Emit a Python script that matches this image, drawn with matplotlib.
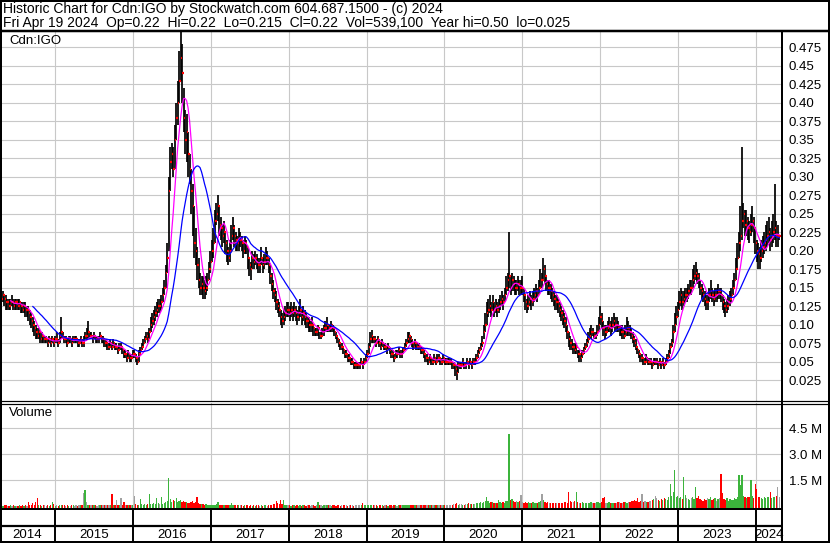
import numpy as np
import pandas as pd
import matplotlib
matplotlib.use('Agg')
import matplotlib.pyplot as plt
import matplotlib.dates as mdates
from matplotlib.lines import Line2D

plt.rcParams['font.family'] = ['Liberation Sans', 'DejaVu Sans']

# ---------------- data (weekly, Apr 2014 - Apr 19 2024) ----------------
close = [
    0.135,0.14,0.135,0.13,0.13,0.125,0.13,0.13,0.125,0.13,
    0.13,0.125,0.13,0.125,0.12,0.125,0.12,0.12,0.115,0.11,
    0.105,0.10,0.095,0.09,0.085,0.09,0.08,0.085,0.08,0.08,
    0.08,0.075,0.08,0.075,0.08,0.075,0.08,0.08,0.075,0.085,
    0.09,0.085,0.08,0.08,0.075,0.08,0.08,0.075,0.08,0.08,
    0.08,0.075,0.075,0.08,0.075,0.075,0.085,0.085,0.09,0.085,
    0.085,0.08,0.085,0.08,0.08,0.08,0.085,0.08,0.08,0.075,
    0.075,0.07,0.07,0.075,0.07,0.075,0.07,0.07,0.065,0.07,
    0.07,0.065,0.06,0.06,0.055,0.06,0.055,0.055,0.06,0.06,
    0.055,0.05,0.06,0.065,0.07,0.075,0.08,0.085,0.08,0.09,
    0.10,0.105,0.11,0.115,0.12,0.125,0.125,0.13,0.14,0.15,
    0.17,0.19,0.28,0.32,0.33,0.31,0.35,0.38,0.40,0.43,
    0.46,0.44,0.38,0.35,0.36,0.33,0.31,0.28,0.26,0.21,
    0.20,0.18,0.16,0.15,0.155,0.15,0.145,0.15,0.16,0.175,
    0.185,0.20,0.21,0.24,0.25,0.26,0.235,0.23,0.22,0.225,
    0.21,0.20,0.19,0.20,0.22,0.23,0.22,0.215,0.21,0.215,
    0.215,0.21,0.20,0.21,0.205,0.19,0.18,0.175,0.19,0.185,
    0.19,0.185,0.18,0.18,0.19,0.18,0.185,0.19,0.19,0.18,
    0.165,0.155,0.145,0.14,0.13,0.125,0.12,0.11,0.105,0.11,
    0.115,0.12,0.12,0.115,0.12,0.115,0.12,0.115,0.11,0.115,
    0.12,0.11,0.115,0.11,0.105,0.105,0.10,0.10,0.10,0.095,
    0.09,0.09,0.095,0.085,0.085,0.09,0.095,0.095,0.10,0.095,
    0.095,0.10,0.095,0.09,0.085,0.08,0.075,0.07,0.07,0.065,
    0.06,0.06,0.055,0.055,0.05,0.05,0.045,0.045,0.045,0.045,
    0.045,0.05,0.045,0.05,0.055,0.06,0.07,0.08,0.085,0.08,
    0.08,0.075,0.08,0.075,0.07,0.075,0.07,0.07,0.065,0.07,
    0.065,0.06,0.06,0.055,0.06,0.06,0.065,0.06,0.06,0.065,
    0.07,0.075,0.08,0.085,0.08,0.075,0.07,0.075,0.07,0.07,
    0.07,0.065,0.065,0.06,0.055,0.055,0.05,0.055,0.05,0.05,
    0.055,0.05,0.055,0.055,0.05,0.05,0.055,0.05,0.05,0.05,
    0.05,0.05,0.045,0.045,0.04,0.035,0.045,0.045,0.045,0.05,
    0.045,0.045,0.05,0.045,0.05,0.045,0.05,0.05,0.055,0.06,
    0.065,0.07,0.075,0.09,0.10,0.115,0.12,0.125,0.12,0.13,
    0.12,0.125,0.12,0.125,0.13,0.135,0.13,0.14,0.15,0.16,
    0.165,0.15,0.16,0.155,0.15,0.15,0.155,0.15,0.15,0.15,
    0.14,0.13,0.125,0.13,0.135,0.13,0.135,0.14,0.145,0.14,
    0.15,0.16,0.16,0.175,0.165,0.155,0.15,0.15,0.145,0.14,
    0.135,0.13,0.13,0.125,0.12,0.115,0.11,0.105,0.10,0.09,
    0.08,0.075,0.07,0.07,0.065,0.07,0.06,0.06,0.055,0.06,
    0.065,0.07,0.075,0.08,0.085,0.09,0.09,0.085,0.085,0.09,
    0.10,0.11,0.105,0.095,0.09,0.09,0.095,0.10,0.095,0.10,
    0.105,0.10,0.10,0.095,0.095,0.09,0.09,0.085,0.09,0.095,
    0.095,0.09,0.085,0.08,0.075,0.07,0.065,0.06,0.055,0.055,
    0.05,0.05,0.055,0.05,0.05,0.05,0.045,0.05,0.05,0.05,
    0.045,0.05,0.045,0.05,0.045,0.05,0.055,0.06,0.07,0.075,
    0.09,0.10,0.11,0.12,0.13,0.14,0.13,0.135,0.14,0.14,
    0.145,0.15,0.15,0.16,0.165,0.17,0.165,0.16,0.15,0.145,
    0.14,0.135,0.13,0.13,0.14,0.145,0.14,0.135,0.14,0.14,
    0.145,0.145,0.14,0.13,0.125,0.12,0.125,0.13,0.135,0.14,
    0.15,0.16,0.175,0.19,0.21,0.22,0.24,0.25,0.235,0.24,
    0.23,0.225,0.235,0.24,0.23,0.21,0.20,0.195,0.19,0.20,
    0.205,0.21,0.215,0.22,0.225,0.215,0.22,0.225,0.23,0.22,
    0.22,0.22,
]

high = [
    0.145,0.145,0.14,0.14,0.135,0.135,0.135,0.14,0.135,0.135,
    0.135,0.135,0.135,0.13,0.13,0.13,0.13,0.125,0.125,0.12,
    0.115,0.11,0.105,0.10,0.095,0.095,0.09,0.09,0.085,0.085,
    0.085,0.08,0.085,0.08,0.085,0.08,0.085,0.09,0.08,0.09,
    0.11,0.09,0.085,0.085,0.08,0.085,0.085,0.08,0.085,0.085,
    0.085,0.08,0.08,0.085,0.08,0.085,0.09,0.095,0.105,0.09,
    0.09,0.085,0.09,0.085,0.085,0.085,0.09,0.085,0.085,0.08,
    0.08,0.075,0.075,0.08,0.075,0.08,0.075,0.075,0.07,0.075,
    0.075,0.07,0.065,0.065,0.06,0.065,0.06,0.06,0.065,0.065,
    0.06,0.055,0.065,0.07,0.075,0.08,0.085,0.09,0.09,0.095,
    0.11,0.115,0.12,0.125,0.13,0.135,0.135,0.14,0.15,0.16,
    0.18,0.21,0.30,0.34,0.345,0.34,0.37,0.40,0.43,0.47,
    0.50,0.48,0.42,0.39,0.385,0.36,0.33,0.31,0.29,0.26,
    0.23,0.205,0.19,0.17,0.165,0.165,0.16,0.165,0.17,0.185,
    0.20,0.215,0.23,0.255,0.265,0.275,0.26,0.245,0.235,0.24,
    0.225,0.215,0.205,0.215,0.235,0.245,0.235,0.225,0.22,0.23,
    0.225,0.22,0.215,0.22,0.215,0.205,0.19,0.185,0.20,0.195,
    0.20,0.195,0.19,0.19,0.205,0.19,0.195,0.205,0.20,0.19,
    0.18,0.17,0.16,0.15,0.145,0.135,0.13,0.12,0.115,0.12,
    0.125,0.13,0.13,0.125,0.13,0.125,0.13,0.125,0.12,0.125,
    0.135,0.12,0.125,0.12,0.115,0.11,0.11,0.105,0.11,0.10,
    0.095,0.095,0.10,0.09,0.09,0.095,0.10,0.105,0.11,0.10,
    0.10,0.105,0.10,0.095,0.09,0.085,0.08,0.075,0.075,0.07,
    0.065,0.065,0.06,0.06,0.055,0.055,0.05,0.05,0.05,0.05,
    0.05,0.055,0.05,0.055,0.06,0.065,0.075,0.09,0.092,0.085,
    0.085,0.08,0.085,0.08,0.075,0.08,0.075,0.075,0.07,0.075,
    0.07,0.065,0.065,0.06,0.065,0.065,0.07,0.065,0.065,0.07,
    0.075,0.08,0.09,0.09,0.085,0.08,0.075,0.08,0.075,0.075,
    0.075,0.07,0.07,0.065,0.06,0.06,0.055,0.06,0.055,0.055,
    0.06,0.055,0.06,0.06,0.055,0.055,0.06,0.055,0.055,0.055,
    0.055,0.055,0.05,0.05,0.045,0.045,0.05,0.05,0.05,0.055,
    0.05,0.05,0.055,0.05,0.055,0.05,0.055,0.055,0.06,0.065,
    0.07,0.075,0.085,0.10,0.115,0.13,0.135,0.14,0.13,0.14,
    0.13,0.135,0.13,0.135,0.14,0.145,0.14,0.15,0.165,0.17,
    0.225,0.165,0.17,0.165,0.16,0.16,0.165,0.16,0.16,0.165,
    0.15,0.14,0.135,0.14,0.145,0.14,0.145,0.15,0.155,0.15,
    0.16,0.175,0.17,0.19,0.18,0.165,0.16,0.16,0.155,0.15,
    0.145,0.14,0.14,0.135,0.13,0.125,0.12,0.115,0.11,0.10,
    0.09,0.085,0.08,0.075,0.075,0.075,0.065,0.065,0.06,0.065,
    0.07,0.075,0.08,0.09,0.095,0.10,0.095,0.09,0.09,0.10,
    0.11,0.125,0.115,0.105,0.10,0.10,0.105,0.11,0.105,0.11,
    0.115,0.11,0.11,0.105,0.10,0.10,0.10,0.095,0.10,0.11,
    0.105,0.10,0.095,0.09,0.085,0.08,0.07,0.065,0.06,0.06,
    0.055,0.055,0.06,0.055,0.055,0.055,0.05,0.055,0.055,0.055,
    0.05,0.055,0.05,0.055,0.05,0.055,0.06,0.065,0.075,0.08,
    0.10,0.115,0.125,0.13,0.145,0.15,0.145,0.145,0.15,0.15,
    0.155,0.16,0.16,0.175,0.18,0.185,0.175,0.17,0.16,0.155,
    0.15,0.145,0.14,0.14,0.15,0.16,0.15,0.145,0.15,0.15,
    0.155,0.15,0.15,0.14,0.135,0.13,0.135,0.14,0.145,0.15,
    0.16,0.17,0.19,0.21,0.225,0.26,0.34,0.265,0.255,0.255,
    0.245,0.24,0.25,0.26,0.245,0.23,0.215,0.21,0.205,0.215,
    0.22,0.225,0.235,0.24,0.245,0.23,0.24,0.25,0.29,0.24,
    0.235,0.22,
]

low = [
    0.125,0.13,0.125,0.12,0.12,0.12,0.12,0.125,0.12,0.12,
    0.12,0.12,0.12,0.115,0.115,0.115,0.11,0.11,0.105,0.10,
    0.095,0.09,0.085,0.08,0.08,0.08,0.075,0.075,0.075,0.075,
    0.075,0.07,0.075,0.07,0.075,0.07,0.075,0.075,0.07,0.075,
    0.08,0.08,0.075,0.075,0.07,0.075,0.075,0.07,0.075,0.075,
    0.075,0.07,0.07,0.075,0.07,0.07,0.08,0.08,0.08,0.08,
    0.08,0.075,0.08,0.075,0.075,0.075,0.08,0.075,0.075,0.07,
    0.07,0.065,0.065,0.07,0.065,0.07,0.065,0.065,0.06,0.065,
    0.065,0.06,0.055,0.055,0.05,0.055,0.05,0.05,0.055,0.055,
    0.05,0.045,0.05,0.06,0.065,0.07,0.075,0.08,0.075,0.08,
    0.09,0.095,0.10,0.105,0.11,0.115,0.115,0.12,0.13,0.14,
    0.15,0.17,0.20,0.28,0.31,0.30,0.31,0.35,0.37,0.40,
    0.43,0.40,0.36,0.33,0.32,0.30,0.29,0.25,0.22,0.19,
    0.18,0.16,0.15,0.14,0.14,0.135,0.135,0.14,0.145,0.16,
    0.17,0.185,0.19,0.21,0.235,0.24,0.22,0.215,0.205,0.21,
    0.195,0.185,0.18,0.185,0.20,0.215,0.205,0.20,0.20,0.20,
    0.205,0.20,0.19,0.195,0.195,0.175,0.165,0.16,0.175,0.175,
    0.18,0.175,0.17,0.17,0.18,0.17,0.175,0.18,0.18,0.17,
    0.155,0.145,0.135,0.13,0.12,0.115,0.11,0.10,0.095,0.10,
    0.105,0.11,0.11,0.105,0.11,0.105,0.11,0.105,0.10,0.105,
    0.11,0.10,0.105,0.10,0.095,0.095,0.09,0.09,0.09,0.085,
    0.085,0.085,0.085,0.08,0.08,0.085,0.085,0.09,0.09,0.09,
    0.09,0.09,0.09,0.085,0.08,0.075,0.07,0.065,0.065,0.06,
    0.055,0.055,0.05,0.05,0.045,0.045,0.04,0.04,0.04,0.04,
    0.04,0.045,0.04,0.045,0.05,0.055,0.06,0.07,0.075,0.075,
    0.075,0.07,0.075,0.07,0.065,0.07,0.065,0.065,0.06,0.065,
    0.06,0.055,0.055,0.05,0.055,0.055,0.06,0.055,0.055,0.06,
    0.065,0.07,0.075,0.075,0.075,0.07,0.065,0.07,0.065,0.065,
    0.065,0.06,0.06,0.055,0.05,0.05,0.045,0.05,0.045,0.045,
    0.05,0.045,0.05,0.05,0.045,0.045,0.05,0.045,0.045,0.045,
    0.045,0.045,0.04,0.04,0.03,0.025,0.035,0.04,0.04,0.045,
    0.04,0.04,0.045,0.04,0.045,0.04,0.045,0.045,0.05,0.055,
    0.06,0.065,0.07,0.08,0.09,0.10,0.11,0.115,0.11,0.12,
    0.11,0.115,0.11,0.115,0.12,0.125,0.12,0.13,0.14,0.145,
    0.15,0.14,0.145,0.145,0.14,0.14,0.145,0.14,0.14,0.14,
    0.13,0.12,0.115,0.12,0.125,0.12,0.125,0.13,0.135,0.13,
    0.14,0.15,0.15,0.16,0.155,0.145,0.14,0.14,0.135,0.13,
    0.125,0.12,0.12,0.115,0.11,0.105,0.10,0.095,0.09,0.08,
    0.07,0.065,0.065,0.06,0.06,0.06,0.055,0.05,0.05,0.055,
    0.06,0.065,0.07,0.075,0.08,0.08,0.085,0.08,0.08,0.085,
    0.09,0.10,0.095,0.085,0.08,0.085,0.09,0.09,0.085,0.09,
    0.095,0.09,0.09,0.09,0.085,0.085,0.08,0.08,0.085,0.085,
    0.085,0.085,0.08,0.075,0.07,0.065,0.06,0.055,0.05,0.05,
    0.045,0.045,0.05,0.045,0.045,0.045,0.04,0.045,0.045,0.045,
    0.04,0.045,0.04,0.045,0.04,0.045,0.05,0.055,0.06,0.07,
    0.075,0.09,0.10,0.11,0.12,0.125,0.12,0.125,0.13,0.13,
    0.135,0.14,0.14,0.15,0.155,0.16,0.155,0.15,0.14,0.135,
    0.13,0.125,0.12,0.12,0.13,0.135,0.13,0.125,0.13,0.13,
    0.135,0.135,0.13,0.12,0.115,0.11,0.115,0.12,0.125,0.13,
    0.14,0.15,0.16,0.175,0.19,0.20,0.215,0.23,0.22,0.22,
    0.215,0.21,0.22,0.225,0.21,0.195,0.185,0.175,0.175,0.185,
    0.19,0.195,0.20,0.205,0.21,0.20,0.205,0.21,0.215,0.205,
    0.205,0.215,
]

volume_m = [
    0.05,0.03,0.04,0.06,0.03,0.02,0.04,0.03,0.06,0.03,
    0.03,0.02,0.04,0.03,0.05,0.03,0.04,0.02,0.23,0.05,
    0.06,0.15,0.08,0.23,0.48,0.05,0.04,0.03,0.05,0.04,
    0.03,0.04,0.02,0.06,0.23,0.12,0.03,0.05,0.03,0.04,
    0.08,0.04,0.05,0.03,0.04,0.02,0.03,0.05,0.04,0.03,
    0.04,0.03,0.05,0.04,0.06,0.77,0.91,0.23,0.05,0.04,
    0.05,0.06,0.04,0.05,0.03,0.05,0.04,0.06,0.04,0.05,
    0.04,0.06,0.05,0.04,0.71,0.06,0.05,0.35,0.08,0.05,
    0.48,0.06,0.25,0.06,0.04,0.05,0.06,0.05,0.04,0.58,
    0.12,0.08,0.06,0.42,0.12,0.06,0.10,0.08,0.12,0.71,
    0.10,0.12,0.15,0.14,0.48,0.15,0.10,0.52,0.12,0.20,
    0.25,0.30,1.64,0.40,0.25,0.35,0.30,0.48,0.25,0.30,
    0.35,0.25,0.30,0.22,0.25,0.20,0.18,0.22,0.30,0.20,
    0.22,0.52,0.15,0.12,0.10,0.12,0.08,0.10,0.06,0.08,
    0.06,0.05,0.08,0.06,0.10,0.23,0.08,0.06,0.05,0.07,
    0.05,0.06,0.08,0.05,0.15,0.06,0.04,0.05,0.04,0.06,
    0.04,0.05,0.03,0.06,0.04,0.05,0.03,0.04,0.03,0.05,
    0.03,0.04,0.05,0.03,0.04,0.03,0.05,0.04,0.03,0.05,
    0.06,0.08,0.10,0.12,0.30,0.15,0.10,0.38,0.12,0.36,
    0.08,0.05,0.04,0.06,0.03,0.04,0.05,0.03,0.04,0.03,
    0.04,0.03,0.05,0.04,0.03,0.06,0.04,0.03,0.05,0.04,
    0.03,0.04,0.23,0.05,0.04,0.03,0.05,0.04,0.06,0.04,
    0.05,0.03,0.04,0.06,0.03,0.04,0.05,0.03,0.06,0.04,
    0.04,0.05,0.03,0.04,0.06,0.04,0.03,0.05,0.04,0.06,
    0.05,0.04,0.15,0.06,0.04,0.05,0.08,0.06,0.05,0.04,
    0.05,0.04,0.03,0.05,0.04,0.06,0.03,0.05,0.04,0.03,
    0.04,0.05,0.03,0.06,0.04,0.03,0.05,0.04,0.06,0.04,
    0.05,0.06,0.04,0.08,0.05,0.04,0.06,0.05,0.04,0.06,
    0.05,0.04,0.06,0.05,0.07,0.05,0.06,0.08,0.06,0.05,
    0.06,0.08,0.05,0.07,0.06,0.09,0.05,0.07,0.06,0.08,
    0.07,0.06,0.08,0.10,0.12,0.15,0.08,0.10,0.12,0.09,
    0.08,0.12,0.10,0.15,0.12,0.10,0.14,0.12,0.20,0.15,
    0.18,0.22,0.15,0.25,0.30,0.51,0.28,0.20,0.25,0.22,
    0.18,0.20,0.15,0.38,0.22,0.18,0.25,0.20,0.30,0.28,
    4.19,0.35,0.40,0.30,0.25,0.28,0.22,0.30,0.64,0.25,
    0.20,0.22,0.18,0.25,0.20,0.18,0.22,0.15,0.20,0.18,
    0.25,0.30,0.70,0.35,0.25,0.20,0.22,0.18,0.20,0.15,
    0.18,0.15,0.20,0.18,0.15,0.20,0.18,0.22,0.25,0.20,
    0.83,0.30,0.25,0.22,0.28,0.80,0.25,0.20,0.18,0.22,
    0.20,0.18,0.15,0.20,0.18,0.22,0.15,0.20,0.18,0.22,
    0.25,0.20,0.22,0.45,0.52,0.20,0.18,0.22,0.20,0.18,
    0.15,0.20,0.18,0.22,0.25,0.20,0.18,0.22,0.25,0.20,
    0.22,0.25,0.30,0.28,0.35,0.30,0.45,0.25,0.30,0.70,
    0.25,0.30,0.22,0.25,0.30,0.28,0.35,0.40,0.60,0.45,
    0.35,0.30,0.40,0.35,0.45,0.40,0.35,0.50,1.29,0.60,
    0.80,2.07,0.50,0.60,0.45,0.50,0.40,1.68,0.62,0.45,
    0.40,0.35,0.45,0.50,0.40,1.10,0.45,0.58,0.40,0.35,
    0.30,0.40,0.35,0.45,0.40,0.50,0.35,0.40,0.45,0.30,
    0.40,0.45,1.87,0.75,0.40,0.35,0.45,0.30,0.40,0.35,
    0.35,0.45,0.40,0.55,1.78,1.20,1.78,0.60,0.50,0.45,
    0.50,0.55,1.49,0.60,0.45,1.29,1.00,0.55,0.50,0.45,
    0.40,0.50,0.45,0.55,0.50,0.81,0.45,0.50,0.55,0.60,
    1.10,0.55,
]

years = [2014, 2015, 2016, 2017, 2018, 2019, 2020, 2021, 2022, 2023, 2024]
price_ticks = [0.025, 0.05, 0.075, 0.10, 0.125, 0.15, 0.175, 0.20, 0.225, 0.25,
               0.275, 0.30, 0.325, 0.35, 0.375, 0.40, 0.425, 0.45, 0.475]
price_tick_labels = ["0.025", "0.05", "0.075", "0.10", "0.125", "0.15", "0.175", "0.20",
                     "0.225", "0.25", "0.275", "0.30", "0.325", "0.35", "0.375", "0.40",
                     "0.425", "0.45", "0.475"]
vol_ticks = [1.5, 3.0, 4.5]
vol_tick_labels = ["1.5 M", "3.0 M", "4.5 M"]
last_date = "2024-04-19"
title_line1 = "Historic Chart for Cdn:IGO by Stockwatch.com 604.687.1500 - (c) 2024"
title_line2 = ("Fri Apr 19 2024  Op=0.22  Hi=0.22  Lo=0.215  Cl=0.22  "
               "Vol=539,100  Year hi=0.50  lo=0.025")
symbol = "Cdn:IGO"

# ---------------- figure ----------------
W, H = 830, 543
fig = plt.figure(figsize=(W / 100, H / 100), dpi=100)
fig.patch.set_facecolor('white')


def rect(l, t, r, b):
    return [l / W, 1 - b / H, (r - l) / W, (b - t) / H]


def fline(xs, ys, lw_px, color='black'):
    fig.add_artist(Line2D([x / W for x in xs], [1 - y / H for y in ys],
                          transform=fig.transFigure, color=color,
                          lw=lw_px * 0.72, solid_capstyle='butt', zorder=10))


dates = pd.date_range(end=last_date, periods=len(close), freq='7D')
xd = mdates.date2num(dates)
xmin = mdates.date2num(pd.Timestamp('2014-04-18'))
xmax = mdates.date2num(pd.Timestamp('2024-05-02'))
year_starts = [mdates.date2num(pd.Timestamp(f'{y}-01-01')) for y in years[1:]]

close_a = np.array(close)
high_a = np.array(high)
low_a = np.array(low)
vol_a = np.array(volume_m)

GRID = '#c8c8c8'
FS = 9.5

# ---- price panel
ax = fig.add_axes(rect(0, 31, 782, 401))
ax.set_xlim(xmin, xmax)
ax.set_ylim(-0.0034, 0.497)
ax.set_xticks(year_starts)
ax.tick_params(axis='x', length=0, labelbottom=False)
ax.set_yticks(price_ticks)
ax.set_yticklabels(price_tick_labels)
ax.yaxis.tick_right()
ax.tick_params(axis='y', length=0, pad=5, labelsize=FS)
ax.grid(True, color=GRID, lw=0.8)
ax.set_axisbelow(True)
for s in ax.spines.values():
    s.set_visible(False)

ax.vlines(xd, low_a, high_a, color='black', lw=1.25, zorder=2)
ax.hlines(close_a, xd + 1, xd + 8, color='#ff0000', lw=1.6, zorder=3)
ma_fast = pd.Series(close_a).rolling(7).mean().values
ma_slow = pd.Series(close_a).rolling(22).mean().values
ax.plot(xd, ma_fast, color='#ff00ff', lw=0.9, zorder=4)
ax.plot(xd, ma_slow, color='#0000ff', lw=0.9, zorder=4)

# ---- volume panel
axv = fig.add_axes(rect(0, 403, 782, 509))
vbot = -0.17
axv.set_xlim(xmin, xmax)
axv.set_ylim(vbot, 5.97)
axv.set_xticks(year_starts)
axv.tick_params(axis='x', length=0, labelbottom=False)
axv.set_yticks(vol_ticks)
axv.set_yticklabels(vol_tick_labels)
axv.yaxis.tick_right()
axv.tick_params(axis='y', length=0, pad=5, labelsize=FS)
axv.grid(True, color=GRID, lw=0.8)
axv.set_axisbelow(True)
for s in axv.spines.values():
    s.set_visible(False)

diff = np.diff(np.concatenate([[close_a[0]], close_a]))
vcolors = np.where(np.isclose(diff, 0), '#a0a0a0',
                   np.where(diff > 0, '#3cb43c', '#ff0000'))
axv.bar(xd, vol_a - vbot, bottom=vbot, width=6.0, color=vcolors, lw=0,
        antialiased=False, zorder=2)

# ---- year strip
axy = fig.add_axes(rect(0, 509, 782, 542))
axy.set_xlim(xmin, xmax)
axy.set_ylim(0, 33)
axy.axis('off')
for ys in year_starts:
    axy.axvline(ys, color='black', lw=1.4)
axy.axhline(16, color='black', lw=1.6)
for y in years:
    a = max(mdates.date2num(pd.Timestamp(f'{y}-01-01')), xmin)
    b = min(mdates.date2num(pd.Timestamp(f'{y + 1}-01-01')), xmax)
    axy.text((a + b) / 2, 7.2, str(y), ha='center', va='center', fontsize=FS)

# ---- texts
fig.text(3 / W, 1 - 8.5 / H, title_line1, fontsize=10.0, va='center', ha='left')
fig.text(3 / W, 1 - 22.5 / H, title_line2, fontsize=10.0, va='center', ha='left')
fig.text(9 / W, 1 - 41.5 / H, symbol, fontsize=FS, va='center', ha='left')
fig.text(9 / W, 1 - 413 / H, "Volume", fontsize=FS, va='center', ha='left')

# ---- frame lines
fline([0, W], [1, 1], 2)
fline([0, W], [542, 542], 2)
fline([1, 1], [0, H], 2)
fline([829, 829], [0, H], 2)
fline([0, W], [31, 31], 2.5)
fline([0, W], [401.3, 401.3], 1.2)
fline([0, W], [403.5, 403.5], 1.2)
fline([0, 782], [509, 509], 2)
fline([782, 782], [31, 543], 2)

fig.savefig('out.png', dpi=100)
